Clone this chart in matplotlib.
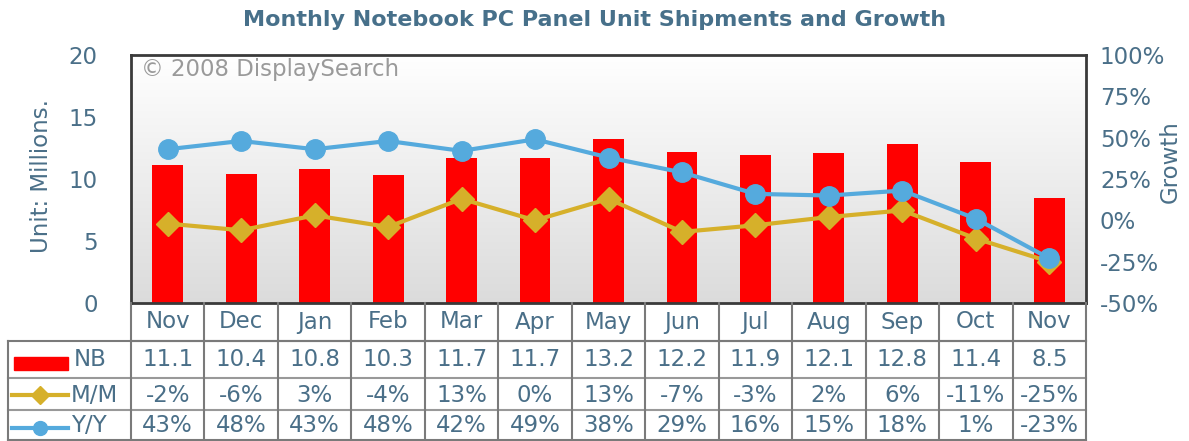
import numpy as np
import matplotlib
matplotlib.use("Agg")
import matplotlib.pyplot as plt
import matplotlib.transforms as mtransforms
from matplotlib.lines import Line2D
from matplotlib.patches import Rectangle

months = ["Nov", "Dec", "Jan", "Feb", "Mar", "Apr", "May", "Jun", "Jul", "Aug", "Sep", "Oct", "Nov"]
nb_units = [11.1, 10.4, 10.8, 10.3, 11.7, 11.7, 13.2, 12.2, 11.9, 12.1, 12.8, 11.4, 8.5]
mm_growth = [-2, -6, 3, -4, 13, 0, 13, -7, -3, 2, 6, -11, -25]
yy_growth = [43, 48, 43, 48, 42, 49, 38, 29, 16, 15, 18, 1, -23]
left_ticks = [0, 5, 10, 15, 20]
right_ticks = [-50, -25, 0, 25, 50, 75, 100]

TXT = "#4a6f88"
RED = "#ff0000"
GOLD = "#d6b02a"
BLUE = "#55aadd"
GRID = "#7a7a7a"

plt.rcParams['font.family'] = ['DejaVu Sans']

W, H = 1189, 441
fig = plt.figure(figsize=(W / 100, H / 100), dpi=100)

def fx(x):
    return x / W

def fy(y):
    return 1 - y / H

L, R, T, B = 131, 1086, 55, 303
ax = fig.add_axes([fx(L), fy(B), fx(R) - fx(L), fy(T) - fy(B)])
x = np.arange(len(months))
ax.set_xlim(-0.5, len(months) - 0.5)
ax.set_ylim(0, 20)

# gradient background
grad = np.linspace(1.0, 0.0, 256).reshape(-1, 1)
top = np.array([1.0, 1.0, 1.0])
bot = np.array([0.86, 0.86, 0.86])
img = top * grad[..., None] + bot * (1 - grad[..., None])
ax.imshow(img, extent=[-0.5, len(months) - 0.5, 0, 20], aspect='auto', zorder=0)

ax.bar(x, nb_units, width=0.42, color=RED, zorder=2)
ax.set_xticks([])
ax.set_yticks(left_ticks)
ax.tick_params(axis='y', length=0, labelsize=16.5, labelcolor=TXT, pad=24)
for s in ax.spines.values():
    s.set_color("#3a3a3a")
    s.set_linewidth(2)

ax2 = ax.twinx()
ax2.set_ylim(-50, 100)
ax2.set_yticks(right_ticks)
ax2.set_yticklabels([f"{t}%" for t in right_ticks])
ax2.tick_params(axis='y', length=0, labelsize=16.5, labelcolor=TXT, pad=10)
for s in ax2.spines.values():
    s.set_visible(False)
ax2.plot(x, mm_growth, color=GOLD, lw=3, marker='D', ms=12, zorder=3)
ax2.plot(x, yy_growth, color=BLUE, lw=3, marker='o', ms=14, zorder=4)

fig.text(fx(42), fy(176), "Unit: Millions.", rotation=90, fontsize=16.5, color=TXT,
         ha='center', va='center')
fig.text(fx(1170), fy(162), "Growth", rotation=90, fontsize=16.5, color=TXT,
         ha='center', va='center')

ax.text(0.01, 0.94, "\u00a9 2008 DisplaySearch", transform=ax.transAxes,
        fontsize=16.5, color="#9a9a9a", va='center', ha='left', zorder=5)

fig.text(fx(595), fy(20), "Monthly Notebook PC Panel Unit Shipments and Growth",
         fontsize=16, fontweight='bold', color="#47708a", ha='center', va='center')

# data table
bt = mtransforms.blended_transform_factory(ax.transData, fig.transFigure)
LABL = 8

def hline(x0, x1, y, color=GRID, lw=1.5):
    fig.add_artist(Line2D([fx(x0), fx(x1)], [fy(y), fy(y)], color=color, lw=lw,
                          transform=fig.transFigure))

def vline(xpx, y0, y1, color=GRID, lw=1.5):
    fig.add_artist(Line2D([fx(xpx), fx(xpx)], [fy(y0), fy(y1)], color=color, lw=lw,
                          transform=fig.transFigure))

hline(L, R, 341)
hline(LABL, R, 341)
hline(LABL, R, 378, color="#999999")
hline(LABL, R, 410, color="#999999")
hline(LABL, R, 440)
vline(LABL, 341, 440)
for i in range(len(months) + 1):
    xb = i - 0.5
    fig.add_artist(Line2D([xb, xb], [fy(303), fy(440)], color=GRID, lw=1.5, transform=bt))

centers = [322, 359, 395, 426]
FS = 16.5
for i, m in enumerate(months):
    fig.text(i, fy(centers[0]), m, transform=bt, ha='center', va='center', fontsize=FS, color=TXT)
    fig.text(i, fy(centers[1]), f"{nb_units[i]}", transform=bt, ha='center', va='center', fontsize=FS, color=TXT)
    fig.text(i, fy(centers[2]), f"{mm_growth[i]}%", transform=bt, ha='center', va='center', fontsize=FS, color=TXT)
    fig.text(i, fy(centers[3]), f"{yy_growth[i]}%", transform=bt, ha='center', va='center', fontsize=FS, color=TXT)

# row legends
fig.add_artist(Rectangle((fx(14), fy(370)), fx(68) - fx(14), fy(357) - fy(370),
                         color=RED, transform=fig.transFigure))
fig.text(fx(74), fy(centers[1]), "NB", fontsize=FS, color=TXT, va='center', ha='left')
fig.add_artist(Line2D([fx(12), fx(68)], [fy(395), fy(395)], color=GOLD, lw=3, transform=fig.transFigure))
fig.add_artist(Line2D([fx(40)], [fy(395)], color=GOLD, marker='D', ms=9, transform=fig.transFigure))
fig.text(fx(71), fy(centers[2]), "M/M", fontsize=FS, color=TXT, va='center', ha='left')
fig.add_artist(Line2D([fx(12), fx(68)], [fy(428), fy(428)], color=BLUE, lw=3, transform=fig.transFigure))
fig.add_artist(Line2D([fx(40)], [fy(428)], color=BLUE, marker='o', ms=10, transform=fig.transFigure))
fig.text(fx(71), fy(centers[3]), "Y/Y", fontsize=FS, color=TXT, va='center', ha='left')

fig.savefig("out.png", dpi=100)
